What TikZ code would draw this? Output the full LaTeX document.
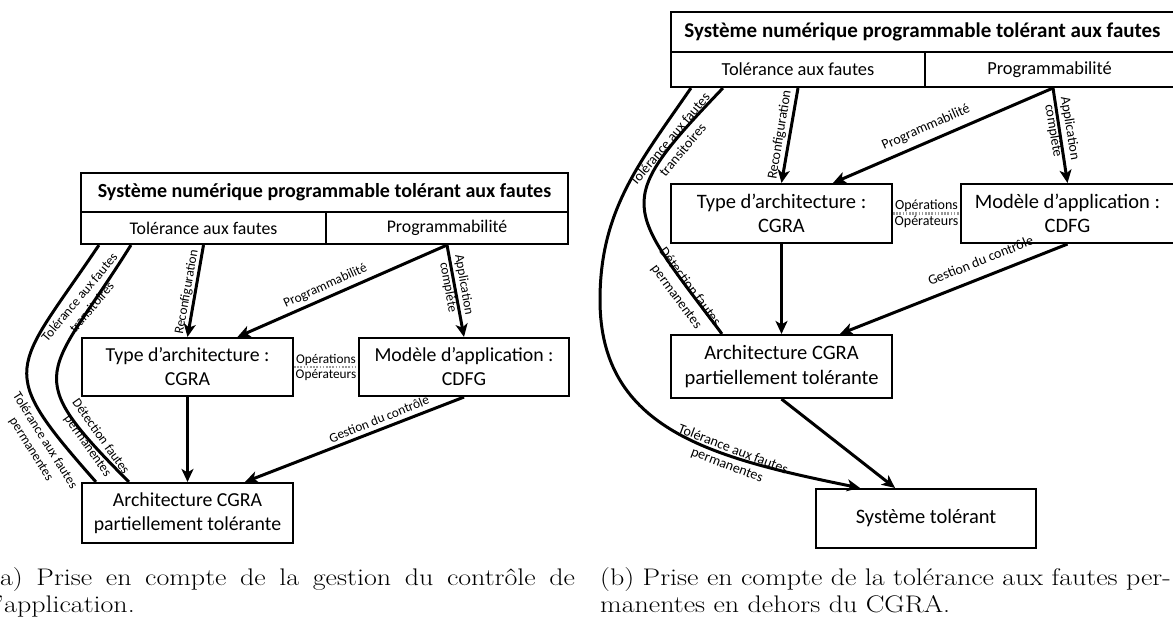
\documentclass[tikz,border=0pt]{standalone}
\usepackage{fontspec}
\usepackage{graphicx}
\newfontfamily\calfont{Carlito}
\usetikzlibrary{arrows.meta}
\newcommand\fsz[2]{\fontsize{#1}{#2}\selectfont}
\newcommand\capwide[1]{\scalebox{1.165}[1]{#1}}
\begin{document}
\begin{tikzpicture}[x=1pt,y=-1pt,
  box/.style={draw, line width=2.1pt, align=center, inner sep=0pt, font=\calfont\fsz{19.8}{24}},
  boxb/.style={box, font=\calfont\fsz{20.5}{24.5}},
  ttl/.style={box, font=\calfont\bfseries\fsz{20}{24}},
  ttlb/.style={box, font=\calfont\bfseries\fsz{21}{25}},
  row/.style={box, font=\calfont\fsz{17.8}{21}},
  rowb/.style={box, font=\calfont\fsz{18.4}{22}},
  arr/.style={line width=3pt, -{Stealth[length=13pt,width=12pt,inset=3.5pt]}},
  crv/.style={line width=3pt},
  dots/.style={black!40, line width=2.6pt, dash pattern=on 1.6pt off 1.6pt},
  lab/.style={font=\calfont\fsz{13.3}{16}, align=center, inner sep=0pt, text=black},
  labb/.style={lab, font=\calfont\fsz{14}{16.8}},
  captxt/.style={anchor=base west, inner sep=0pt, font=\fsz{24}{27}}
]
\useasboundingbox (0,0) rectangle (1173,626);

% ---------- (a) ----------
\node[ttl, minimum width=487pt, minimum height=39pt] (titleA) at (324.5,192.5) {Système numérique programmable tolérant aux fautes};
\node[row, minimum width=245pt, minimum height=32pt] (tolA) at (203.5,228) {Tolérance aux fautes};
\node[row, minimum width=242pt, minimum height=32pt] (progA) at (447,228) {Programmabilité};
\node[box, minimum width=211pt, minimum height=58pt] (typeA) at (187.5,367) {Type d’architecture :\\CGRA};
\node[box, minimum width=210pt, minimum height=58pt] (modA) at (464,367) {Modèle d’application :\\CDFG};
\node[box, minimum width=211pt, minimum height=60pt] (archA) at (187.5,513) {Architecture CGRA\\partiellement tolérante};

\draw[arr] (tolA.south) -- (typeA.north);
\draw[arr] (progA.south) -- ([xshift=50pt]typeA.north);
\draw[arr] (progA.south) -- (modA.north);
\draw[arr] (typeA.south) -- (archA.north);
\draw[arr] (modA.south) -- ([xshift=57.5pt]archA.north);
\draw[dots] (typeA.east) -- node[lab, above=0pt]{Opérations} node[lab, below=1pt]{Opérateurs} (modA.west);
\draw[crv] ([xshift=19pt]tolA.south west) .. controls +(-86,128) and +(-102,-115.5) .. ([xshift=15pt]archA.north west);
\draw[crv] ([xshift=51pt]tolA.south west) .. controls +(-83,133) and +(-111.5,-111.5) .. ([xshift=48pt]archA.north west);

\node[lab, rotate=50] (lTtA) at (85.5,302) {Tolérance aux fautes\\transitoires};
\node[lab, rotate=-58] (lTpA) at (38,445) {Tolérance aux fautes\\permanentes};
\node[lab, rotate=-54.5] (lDpA) at (94,441.5) {Détection fautes\\permanentes};
\node[lab, rotate=80] (lRcA) at (187,292) {Reconfiguration};
\node[lab, rotate=24.4] (lPrA) at (325.5,286) {Programmabilité};
\node[lab, rotate=-80] (lApA) at (456,286) {Application\\complète};
\node[lab, rotate=21.8] (lGcA) at (379,419) {Gestion du contrôle};

% ---------- (b) ----------
\node[ttlb, minimum width=503pt, minimum height=40pt] (titleB) at (922.5,32) {Système numérique programmable tolérant aux fautes};
\node[rowb, minimum width=254pt, minimum height=35pt] (tolB) at (798,69.5) {Tolérance aux fautes};
\node[rowb, minimum width=249pt, minimum height=35pt] (progB) at (1049.5,69.5) {Programmabilité};
\node[boxb, minimum width=221pt, minimum height=59pt] (typeB) at (781.5,213.5) {Type d’architecture :\\CGRA};
\node[boxb, minimum width=213pt, minimum height=59pt] (modB) at (1067.5,213.5) {Modèle d’application :\\CDFG};
\node[boxb, minimum width=221pt, minimum height=63pt] (archB) at (781.5,366.5) {Architecture CGRA\\partiellement tolérante};
\node[boxb, minimum width=220pt, minimum height=59pt] (sysB) at (926,518.5) {Système tolérant};
\coordinate (bendB) at (600,300);

\draw[arr] (tolB.south) -- (typeB.north);
\draw[arr] ([xshift=3.5pt]progB.south) -- ([xshift=51.5pt]typeB.north);
\draw[arr] ([xshift=3.5pt]progB.south) -- (modB.north);
\draw[arr] (typeB.south) -- (archB.north);
\draw[arr] (modB.south) -- ([xshift=58.5pt]archB.north);
\draw[arr] (archB.south) -- ([xshift=-31pt]sysB.north);
\draw[dots] (typeB.east) -- node[labb, above=0pt]{Opérations} node[labb, below=1pt]{Opérateurs} (modB.west);
\draw[crv] ([xshift=53pt]tolB.south west) .. controls +(-112,117) and +(-97,-130) .. ([xshift=52pt]archB.north west);
\draw[arr] ([xshift=21pt]tolB.south west) .. controls +(-51,74) and +(0,-90) .. (bendB) .. controls +(0,130) and +(-147,-30) .. ([xshift=-66pt]sysB.north);

\node[labb, rotate=50] (lTtB) at (676,144.5) {Tolérance aux fautes\\transitoires};
\node[labb, rotate=-53.5] (lDpB) at (683,292) {Détection fautes\\permanentes};
\node[labb, rotate=-21] (lTpB) at (730,457.5) {Tolérance aux fautes\\permanentes};
\node[labb, rotate=80.6] (lRcB) at (780,135) {Reconfiguration};
\node[labb, rotate=23.8] (lPrB) at (926,127.5) {Programmabilité};
\node[labb, rotate=-80.6] (lApB) at (1061.5,129.5) {Application\\complète};
\node[labb, rotate=21.8] (lGcB) at (980.5,260.5) {Gestion du contrôle};

% ---------- captions ----------
\node[captxt] (capA1) at (-10,585) {\capwide{\makebox[502pt][s]{(a) Prise en compte de la gestion du contrôle de}}};
\node[captxt] (capA2) at (-10,612) {\capwide{l’application.}};
\node[captxt] (capB1) at (600,585) {\capwide{(b) Prise en compte de la tolérance aux fautes per-}};
\node[captxt] (capB2) at (600,612) {\capwide{manentes en dehors du CGRA.}};
\end{tikzpicture}
\end{document}
